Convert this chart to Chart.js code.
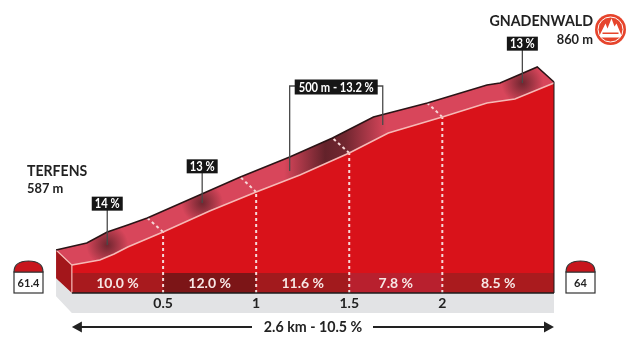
<!DOCTYPE html>
<html>
<head>
<meta charset="utf-8">
<style>
  html, body { margin: 0; padding: 0; background: #fff; }
  #profile { display: block; }
</style>
<script src="https://cdn.jsdelivr.net/npm/chart.js@4/dist/chart.umd.min.js"></script>
</head>
<body>
<canvas id="profile" width="637" height="359"></canvas>
<script>
// km / altitude
const FRONT_KM = [0.01, 0.16, 0.237, 0.31, 0.5, 0.75, 1, 1.235, 1.5, 1.71, 2, 2.24, 2.39, 2.6];
const FRONT_ALT = [587, 594.5, 603.5, 614, 636.5, 668, 696.5, 722, 755, 785, 809, 830, 836, 860];
// back edge of the 3D band
const BACK_KM = [-0.075, 0.09, 0.2, 0.31, 0.415, 0.915, 1.18, 1.41, 1.63, 1.92, 2.24, 2.31, 2.51, 2.6];
const BACK_ALT = [609.5, 620, 636.5, 647, 657.5, 719, 749, 777.5, 809, 830, 857, 860, 884, 861.5];

const KM_TICKS = [0.5, 1, 1.5, 2];
const TICK_FRONT_ALT = [636.5, 696.5, 755, 809];
const TICK_BACK_KM = [0.415, 0.915, 1.41, 1.92];
const TICK_BACK_ALT = [657.5, 719, 777.5, 830];

const SEGMENT_KM = [0.01, 0.5, 1, 1.5, 2, 2.6];
const SEGMENT_GRADES = ['10.0 %', '12.0 %', '11.6 %', '7.8 %', '8.5 %'];
const SEGMENT_COLORS = ['#a81a1e', '#7c1517', '#a21a1d', '#b8202e', '#aa1b1e'];

const STEEP_LABELS = ['14 %', '13 %', '13 %'];
const STEEP_KM = [0.2, 0.71, 2.43];
const STEEP_ALT = [617, 680, 860];
const STEEP_BOX_ALT = [679, 735, 919];

const BASE_ALT = 545;
const BAND_TOP_ALT = 575;
const SIDE_KM = [-0.075, 0.01, 0.01, -0.075];
const SIDE_ALT = [609.5, 587, 545, 567];
const FLOOR_KM = [-0.075, 0.01, 2.6, 2.6, 0.01, -0.075];
const FLOOR_ALT = [567, 545, 545, 515, 515, 540];

const pts = (xs, ys) => xs.map((x, i) => ({ x: x, y: ys[i] }));

const shape = (id, data, color, order) => ({
  id: id, data: data, order: order,
  fill: 'shape', backgroundColor: color, borderWidth: 0, pointRadius: 0, tension: 0, clip: false,
});
const stroke = (id, data, color, width, order, dash) => ({
  id: id, data: data, order: order,
  fill: false, borderColor: color, borderWidth: width, borderDash: dash || [], pointRadius: 0, tension: 0, clip: false,
});

const datasets = [
  shape('floor', pts(FLOOR_KM, FLOOR_ALT), '#e2e3e5', 100),
  { id: 'main', data: pts(FRONT_KM, FRONT_ALT), order: 90, fill: { value: BASE_ALT }, backgroundColor: '#d9121a', borderWidth: 0, pointRadius: 0, tension: 0, clip: false },
  shape('side', pts(SIDE_KM, SIDE_ALT), '#a3161b', 89),
];
SEGMENT_COLORS.forEach((color, i) => {
  datasets.push({
    id: 'segment' + i,
    data: pts([SEGMENT_KM[i], SEGMENT_KM[i + 1]], [BAND_TOP_ALT, BAND_TOP_ALT]),
    order: 80, fill: { value: BASE_ALT }, backgroundColor: color, borderWidth: 0, pointRadius: 0, tension: 0, clip: false,
  });
});
datasets.push(shape('band', pts(BACK_KM.concat(FRONT_KM.slice().reverse()), BACK_ALT.concat(FRONT_ALT.slice().reverse())), '#d8465b', 70));
KM_TICKS.forEach((km, i) => {
  datasets.push(stroke('tick' + i, pts([km, km], [BASE_ALT, TICK_FRONT_ALT[i]]), '#f6d9d9', 2, 60, [3, 3]));
  datasets.push(stroke('cross' + i, pts([km, TICK_BACK_KM[i]], [TICK_FRONT_ALT[i], TICK_BACK_ALT[i]]), '#f6d9d9', 2, 60, [3, 3]));
});
datasets.push(stroke('front', pts(FRONT_KM, FRONT_ALT), '#f7b9b6', 1.5, 50));
datasets.push(stroke('back', pts(BACK_KM, BACK_ALT), '#2a1416', 1.5, 50));
datasets.push(stroke('sideEdge', pts([-0.075, 0.01, 0.01], [609.5, 587, 545]), '#f7b9b6', 1.2, 50));
datasets.push(stroke('baseline', pts([0.01, 2.6], [BASE_ALT, BASE_ALT]), '#1b1b1b', 1.5, 40));
datasets.push(stroke('rightEdge', pts([2.6, 2.6], [BASE_ALT, 861.5]), '#1b1b1b', 1, 40));

const NARROW = 'Lato, sans-serif';

// dark patches on the band, clipped to its shape
const shadePlugin = {
  id: 'shade',
  afterDatasetDraw: function(chart, args) {
    if (chart.data.datasets[args.index].id !== 'band') {
      return;
    }
    const ctx = chart.ctx;
    const x = chart.scales.x;
    const y = chart.scales.y;
    ctx.save();
    ctx.beginPath();
    chart.data.datasets[args.index].data.forEach((p, i) => {
      ctx.lineTo(x.getPixelForValue(p.x), y.getPixelForValue(p.y));
    });
    ctx.closePath();
    ctx.clip();
    STEEP_KM.forEach((km, i) => {
      const px = x.getPixelForValue(km);
      const py = y.getPixelForValue(STEEP_ALT[i]);
      const r = 21;
      const g = ctx.createRadialGradient(px, py, 1, px, py, r);
      g.addColorStop(0, 'rgba(70,25,30,0.68)');
      g.addColorStop(1, 'rgba(70,25,30,0)');
      ctx.fillStyle = g;
      ctx.fillRect(px - r, py - r, r * 2, r * 2);
    });
    const x0 = x.getPixelForValue(1.15);
    const x1 = x.getPixelForValue(1.7);
    const g = ctx.createLinearGradient(x0, 0, x1, 0);
    g.addColorStop(0, 'rgba(70,25,30,0)');
    g.addColorStop(0.4, 'rgba(70,25,30,0.8)');
    g.addColorStop(0.6, 'rgba(70,25,30,0.7)');
    g.addColorStop(1, 'rgba(70,25,30,0)');
    ctx.fillStyle = g;
    ctx.fillRect(x0, 0, x1 - x0, chart.height);
    ctx.restore();
  }
};

// no narrow font installed, squeeze the text instead
const squeezedText = (ctx, text, px, py, sx) => {
  ctx.save();
  ctx.translate(px, py);
  ctx.scale(sx, 1);
  ctx.fillText(text, 0, 0);
  ctx.restore();
};

const tagBox = (ctx, text, cx, cy, w, h) => {
  ctx.fillStyle = '#161616';
  ctx.fillRect(cx - w / 2, cy - h / 2, w, h);
  ctx.fillStyle = '#fff';
  ctx.font = 'bold 13px ' + NARROW;
  ctx.textAlign = 'center';
  ctx.textBaseline = 'middle';
  squeezedText(ctx, text, cx, cy + 0.5, 0.86);
};

const milestone = (ctx, text, left) => {
  const w = 29;
  const cx = left + w / 2;
  ctx.fillStyle = '#fff';
  ctx.strokeStyle = '#333';
  ctx.lineWidth = 1.2;
  ctx.fillRect(left, 272, w, 21);
  ctx.strokeRect(left, 272, w, 21);
  ctx.beginPath();
  ctx.moveTo(left, 272);
  ctx.bezierCurveTo(left, 264, cx - 8, 261, cx, 261);
  ctx.bezierCurveTo(cx + 8, 261, left + w, 264, left + w, 272);
  ctx.closePath();
  ctx.fillStyle = '#c8161d';
  ctx.fill();
  ctx.stroke();
  ctx.fillStyle = '#222';
  ctx.font = 'bold 11px ' + NARROW;
  ctx.textAlign = 'center';
  ctx.textBaseline = 'middle';
  ctx.fillText(text, cx, 283);
};

const summitIcon = (ctx, cx, cy) => {
  ctx.fillStyle = '#e6442c';
  ctx.beginPath();
  ctx.arc(cx, cy, 15.5, 0, Math.PI * 2);
  ctx.fill();
  ctx.strokeStyle = '#fff';
  ctx.lineWidth = 1;
  ctx.beginPath();
  ctx.arc(cx, cy, 12.5, 0, Math.PI * 2);
  ctx.stroke();
  ctx.fillStyle = '#fff';
  ctx.beginPath();
  ctx.moveTo(cx - 11, cy + 6);
  ctx.lineTo(cx - 5, cy - 6);
  ctx.lineTo(cx - 3, cy - 1);
  ctx.lineTo(cx + 1, cy - 11);
  ctx.lineTo(cx + 4, cy - 3);
  ctx.lineTo(cx + 6, cy - 6);
  ctx.lineTo(cx + 11, cy + 6);
  ctx.lineTo(cx + 9, cy + 8);
  ctx.lineTo(cx - 9, cy + 8);
  ctx.closePath();
  ctx.fill();
  ctx.fillStyle = '#e6442c';
  ctx.fillRect(cx - 8, cy + 3, 16, 1.5);
};

const annotationPlugin = {
  id: 'annotations',
  afterDatasetsDraw: function(chart) {
    const ctx = chart.ctx;
    const x = chart.scales.x;
    const y = chart.scales.y;
    ctx.save();

    // stems and tags of the steep points
    ctx.strokeStyle = '#4a4a4a';
    ctx.lineWidth = 1.3;
    STEEP_LABELS.forEach((label, i) => {
      const px = x.getPixelForValue(STEEP_KM[i]);
      ctx.beginPath();
      ctx.moveTo(px, y.getPixelForValue(STEEP_BOX_ALT[i]));
      ctx.lineTo(px, y.getPixelForValue(STEEP_ALT[i]));
      ctx.stroke();
      tagBox(ctx, label, px, y.getPixelForValue(STEEP_BOX_ALT[i]), 31, 14);
    });

    // 500 m bracket
    const left = x.getPixelForValue(1.18);
    const right = x.getPixelForValue(1.68);
    ctx.strokeStyle = '#4a4a4a';
    ctx.beginPath();
    ctx.moveTo(left, y.getPixelForValue(728));
    ctx.lineTo(left, 86);
    ctx.lineTo(left + 6, 86);
    ctx.moveTo(right - 6, 86);
    ctx.lineTo(right, 86);
    ctx.lineTo(right, y.getPixelForValue(797));
    ctx.stroke();
    tagBox(ctx, '500 m - 13.2 %', (left + right) / 2, 87, 83, 15);

    // grades inside the bottom strip
    ctx.font = 'bold 14px ' + NARROW;
    ctx.textAlign = 'center';
    ctx.textBaseline = 'middle';
    SEGMENT_GRADES.forEach((label, i) => {
      ctx.fillStyle = '#f7e6e4';
      ctx.fillText(label, x.getPixelForValue((SEGMENT_KM[i] + SEGMENT_KM[i + 1]) / 2), 283);
    });

    // place names
    ctx.fillStyle = '#222';
    ctx.textAlign = 'left';
    ctx.font = 'bold 16px ' + NARROW;
    squeezedText(ctx, 'TERFENS', 27, 171, 0.88);
    ctx.font = 'bold 14px ' + NARROW;
    squeezedText(ctx, '587 m', 27, 188, 0.92);
    ctx.textAlign = 'right';
    ctx.font = 'bold 16px ' + NARROW;
    squeezedText(ctx, 'GNADENWALD', 593, 21, 0.89);
    ctx.font = 'bold 14px ' + NARROW;
    squeezedText(ctx, '860 m', 593, 39, 0.92);
    summitIcon(ctx, 610.5, 29.5);

    milestone(ctx, '61.4', 14);
    milestone(ctx, '64', 566);

    // length arrow
    const arrowY = 327;
    ctx.strokeStyle = '#222';
    ctx.lineWidth = 2;
    ctx.beginPath();
    ctx.moveTo(x.getPixelForValue(0.04), arrowY);
    ctx.lineTo(252, arrowY);
    ctx.moveTo(373, arrowY);
    ctx.lineTo(x.getPixelForValue(2.57), arrowY);
    ctx.stroke();
    ctx.fillStyle = '#222';
    ctx.beginPath();
    ctx.moveTo(x.getPixelForValue(0.01), arrowY);
    ctx.lineTo(x.getPixelForValue(0.01) + 10, arrowY - 5.5);
    ctx.lineTo(x.getPixelForValue(0.01) + 10, arrowY + 5.5);
    ctx.closePath();
    ctx.moveTo(x.getPixelForValue(2.6), arrowY);
    ctx.lineTo(x.getPixelForValue(2.6) - 10, arrowY - 5.5);
    ctx.lineTo(x.getPixelForValue(2.6) - 10, arrowY + 5.5);
    ctx.closePath();
    ctx.fill();
    ctx.textAlign = 'center';
    ctx.font = 'bold 15px ' + NARROW;
    squeezedText(ctx, '2.6 km - 10.5 %', 313, arrowY, 0.95);

    ctx.restore();
  }
};

window.onload = function () {
  const context = document.querySelector('#profile').getContext('2d');
  new Chart(context, {
    type: 'line',
    data: { datasets: datasets },
    plugins: [shadePlugin, annotationPlugin],
    options: {
      responsive: false,
      animation: false,
      // plot area runs past the profile so the floor and side face are not clipped
      layout: { padding: { left: 51.4, right: 83, top: 56.33, bottom: 36 } },
      plugins: { legend: { display: false }, tooltip: { enabled: false } },
      scales: {
        x: {
          type: 'linear',
          min: -0.1,
          max: 2.6,
          afterBuildTicks: (scale) => { scale.ticks = KM_TICKS.map((v) => ({ value: v })); },
          afterFit: (scale) => { scale.height = 0; },
          grid: { display: false },
          border: { display: false },
          ticks: {
            z: 1,
            mirror: true,
            autoSkip: false,
            maxRotation: 0,
            padding: 11,
            color: '#222',
            font: { family: NARROW, size: 14, weight: 'bold' },
            callback: (v) => String(v),
          },
        },
        y: { display: false, min: 500, max: 900 },
      },
    },
  });
};
</script>
</body>
</html>
